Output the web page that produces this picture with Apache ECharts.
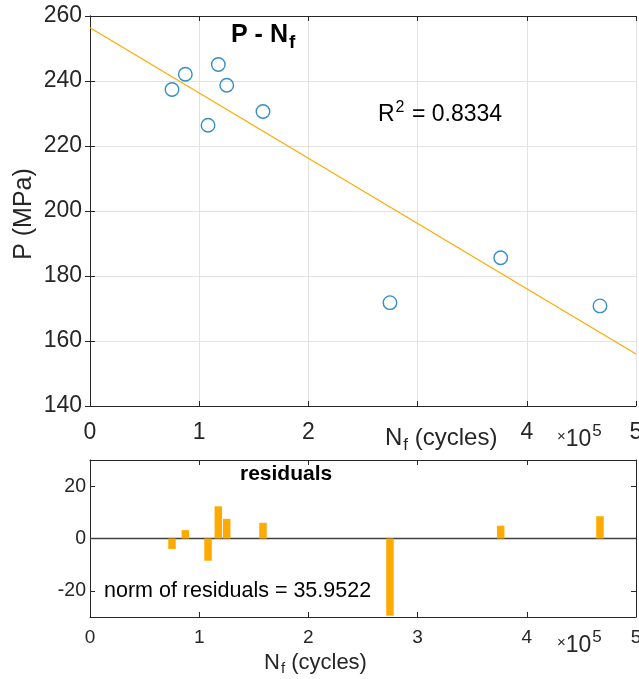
<!DOCTYPE html>
<html>
<head>
<meta charset="utf-8">
<script src="https://cdn.jsdelivr.net/npm/echarts@6/dist/echarts.min.js"></script>
<style>
html,body{margin:0;padding:0;background:#fff;}
#chart{width:639px;height:679px;}
</style>
</head>
<body>
<div id="chart"></div>
<script>
// ---- data ----
const nfCycles  = [75100, 87300, 108100, 117500, 125200, 158400, 274700, 376100, 467000];
const stressMPa = [237.4, 242.1, 226.4, 245.1, 238.7, 230.6, 171.8, 185.6, 170.8];
const residuals = [-4.0, 3.2, -8.5, 12.3, 7.5, 6.0, -29.5, 4.9, 8.5];
const fitX = [0, 500000];
const fitY = [256.4, 156.0];
const zeroX = [0, 500000];
const zeroY = [0, 0];
const resYTicks = [-20, 0, 20];
const xTickLabels = ['0', '1', '2', '3', '4', '5'];

const FONT = "'Liberation Sans', Arial, Helvetica, sans-serif";
const AX = '#262626';
const GRIDC = '#e3e3e3';
const ORANGE = '#FFAA00';
const BLUE = '#0072BD';

const chart = echarts.init(document.getElementById('chart'), null, {renderer: 'canvas'});

function xAxisCommon(gridIndex, pos, showLabels, fontSize, margin, split) {
  return {
    type: 'value', gridIndex: gridIndex, position: pos,
    min: 0, max: 500000, interval: 100000,
    axisLine: {show: true, onZero: false, lineStyle: {color: AX, width: 1}},
    axisTick: {show: true, inside: true, length: 5, lineStyle: {color: AX}},
    axisLabel: {show: showLabels, color: AX, fontSize: fontSize, fontFamily: FONT, margin: margin,
      hideOverlap: false,
      formatter: function (v) { return xTickLabels[Math.round(v / 100000)]; }},
    splitLine: {show: split, lineStyle: {color: GRIDC, width: 1}}
  };
}

const option = {
  animation: false,
  backgroundColor: '#fff',
  grid: [
    {left: 90, top: 16, width: 546, height: 390, containLabel: false, outerBoundsMode: 'none'},
    {left: 90, top: 460, width: 546, height: 157, containLabel: false, outerBoundsMode: 'none'}
  ],
  xAxis: [
    xAxisCommon(0, 'bottom', true, 23, 15, true),
    xAxisCommon(0, 'top', false, 23, 15, false),
    xAxisCommon(1, 'bottom', true, 19, 11, false),
    xAxisCommon(1, 'top', false, 19, 11, false)
  ],
  yAxis: [
    {type: 'value', gridIndex: 0, position: 'left', min: 140, max: 260, interval: 20,
     axisLine: {show: true, lineStyle: {color: AX}},
     axisTick: {show: true, inside: true, length: 5, lineStyle: {color: AX}},
     axisLabel: {color: AX, fontSize: 23, fontFamily: FONT, margin: 8},
     splitLine: {show: true, lineStyle: {color: GRIDC, width: 1}}},
    {type: 'value', gridIndex: 0, position: 'right', min: 140, max: 260, interval: 20,
     axisLine: {show: true, lineStyle: {color: AX}},
     axisTick: {show: true, inside: true, length: 5, lineStyle: {color: AX}},
     axisLabel: {show: false}, splitLine: {show: false}},
    {type: 'value', gridIndex: 1, position: 'left', min: -30, max: 30,
     axisLine: {show: true, onZero: false, lineStyle: {color: AX}},
     axisTick: {show: true, inside: true, length: 5, lineStyle: {color: AX}, customValues: resYTicks},
     axisLabel: {color: AX, fontSize: 19.5, fontFamily: FONT, margin: 4, customValues: resYTicks},
     splitLine: {show: false}},
    {type: 'value', gridIndex: 1, position: 'right', min: -30, max: 30,
     axisLine: {show: true, onZero: false, lineStyle: {color: AX}},
     axisTick: {show: true, inside: true, length: 5, lineStyle: {color: AX}, customValues: resYTicks},
     axisLabel: {show: false, customValues: resYTicks}, splitLine: {show: false}}
  ],
  series: [
    {
      name: 'fit', type: 'line', xAxisIndex: 0, yAxisIndex: 0,
      data: fitX.map((x, i) => [x, fitY[i]]),
      showSymbol: false, symbol: 'none', silent: true,
      lineStyle: {color: ORANGE, width: 1.2}, z: 2
    },
    {
      name: 'data', type: 'scatter', xAxisIndex: 0, yAxisIndex: 0,
      data: nfCycles.map((x, i) => [x, stressMPa[i]]),
      symbol: 'circle', symbolSize: 13.5,
      itemStyle: {color: 'rgba(255,255,255,0)', borderColor: BLUE, borderWidth: 1.4}, z: 3
    },
    {
      name: 'zero', type: 'line', xAxisIndex: 2, yAxisIndex: 2,
      data: zeroX.map((x, i) => [x, zeroY[i]]),
      showSymbol: false, symbol: 'none', silent: true,
      lineStyle: {color: '#404040', width: 1.5}, z: 2
    },
    {
      name: 'residuals', type: 'custom', xAxisIndex: 2, yAxisIndex: 2,
      data: nfCycles.map((x, i) => [x, residuals[i]]),
      renderItem: function (params, api) {
        const x = api.value(0), y = api.value(1);
        const p0 = api.coord([x, 0]);
        const p1 = api.coord([x, y]);
        const w = 7.5;
        const top = Math.min(p0[1], p1[1]);
        const h = Math.abs(p1[1] - p0[1]);
        return {type: 'rect', shape: {x: p0[0] - w / 2, y: top, width: w, height: h},
                style: {fill: ORANGE}};
      },
      z: 3
    }
  ],
  graphic: [
    {type: 'text', left: 231, top: 23, z: 10, style: {
      text: '{a|P - N}{b|f}', rich: {
        a: {fontSize: 25, fontWeight: 'bold', fontFamily: FONT, fill: '#000'},
        b: {fontSize: 19, fontWeight: 'bold', fontFamily: FONT, fill: '#000', padding: [14, 0, 0, 1]}
      }}},
    {type: 'text', left: 378, top: 100, z: 10, style: {
      text: '{a|R}{b|2}{a| = 0.8334}', rich: {
        a: {fontSize: 23, fontFamily: FONT, fill: '#000'},
        b: {fontSize: 16, fontFamily: FONT, fill: '#000', padding: [0, 1, 14, 1]}
      }}},
    {type: 'text', x: 24, y: 214, rotation: Math.PI / 2, z: 10, style: {
      text: 'P (MPa)', fontSize: 25, fontFamily: FONT, fill: AX, align: 'center', verticalAlign: 'middle'}},
    {type: 'text', left: 383, top: 419, z: 10, style: {
      text: '{a|N}{b|f}{a| (cycles)}', backgroundColor: '#fff', padding: [4, 2, 0, 2],
      rich: {
        a: {fontSize: 24, fontFamily: FONT, fill: AX},
        b: {fontSize: 17, fontFamily: FONT, fill: AX, padding: [14, 0, 0, 1]}
      }}},
    {type: 'text', left: 557, top: 423, z: 10, style: {
      text: '{x|×}{a|10}{b|5}', rich: {
        x: {fontSize: 15, fontFamily: FONT, fill: AX, padding: [0, 0, 6, 0]},
        a: {fontSize: 23, fontFamily: FONT, fill: AX},
        b: {fontSize: 17, fontFamily: FONT, fill: AX, padding: [0, 0, 16, 1]}
      }}},
    {type: 'text', left: 240, top: 464, z: 10, style: {
      text: 'residuals', fontSize: 21, fontWeight: 'bold', fontFamily: FONT, fill: '#000'}},
    {type: 'text', left: 104, top: 580, z: 10, style: {
      text: 'norm of residuals = 35.9522', fontSize: 21.5, fontFamily: FONT, fill: '#000'}},
    {type: 'text', left: 557, top: 629, z: 10, style: {
      text: '{x|×}{a|10}{b|5}', rich: {
        x: {fontSize: 15, fontFamily: FONT, fill: AX, padding: [0, 0, 6, 0]},
        a: {fontSize: 23, fontFamily: FONT, fill: AX},
        b: {fontSize: 17, fontFamily: FONT, fill: AX, padding: [0, 0, 16, 1]}
      }}},
    {type: 'text', left: 264, top: 652, z: 10, style: {
      text: '{a|N}{b|f}{a| (cycles)}', rich: {
        a: {fontSize: 22, fontFamily: FONT, fill: AX},
        b: {fontSize: 15, fontFamily: FONT, fill: AX, padding: [12, 0, 0, 1]}
      }}}
  ]
};
chart.setOption(option);
</script>
</body>
</html>
